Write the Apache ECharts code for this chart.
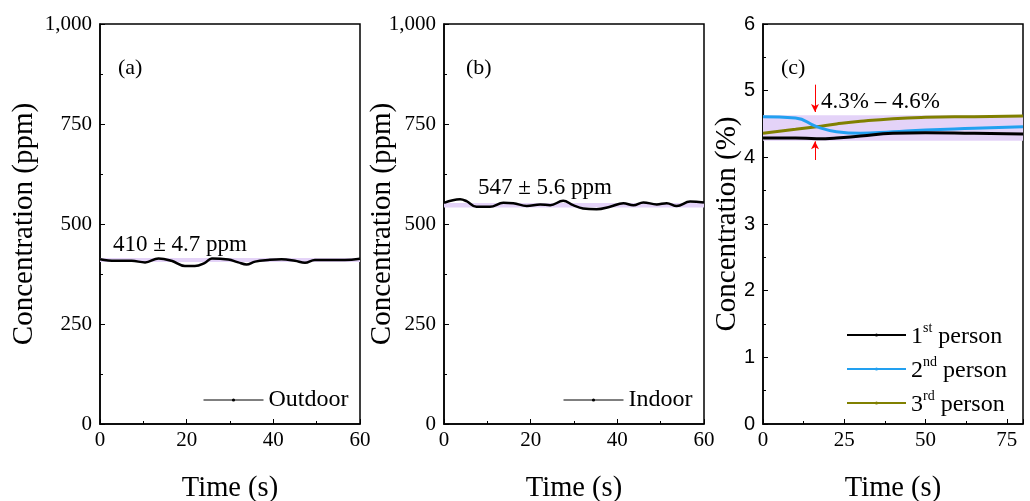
<!DOCTYPE html>
<html><head><meta charset="utf-8">
<script src="https://cdn.jsdelivr.net/npm/echarts@6/dist/echarts.min.js"></script>
<style>html,body{margin:0;padding:0;background:#fff}#c{width:1030px;height:501px}</style>
</head><body><div id="c"></div>
<script>
// ---- data ----
const timeA = [0, 3.5, 7.3, 10.4, 13.5, 16.5, 19.6, 21.9, 24.2, 25.8, 29.6, 31.9, 33.8, 35.8, 38.8, 41.9, 45, 47.3, 49.6, 52.7, 56.5, 60];
const outdoor = [412, 408, 408, 404, 414, 408, 395, 395, 403, 414, 411, 404, 399, 406, 410, 412, 408, 403, 410, 410, 410, 413];
const timeB = [0, 3.7, 5.2, 7.5, 10.6, 13.7, 16, 19.1, 22.2, 24.5, 27.5, 29.8, 32.1, 35.2, 38.3, 41.4, 43.7, 46, 49.1, 51.4, 53.7, 56.8, 60];
const indoor = [553, 562, 557, 543, 543, 553, 552, 545, 549, 547, 558, 547, 539, 537, 543, 552, 547, 554, 549, 552, 545, 556, 554];
const timeC = [0, 10, 16.5, 22.6, 30, 40, 50, 65, 80];
const person1 = [4.29, 4.29, 4.28, 4.29, 4.32, 4.36, 4.37, 4.36, 4.35];
const person2 = [4.61, 4.59, 4.46, 4.385, 4.36, 4.385, 4.41, 4.435, 4.46];
const person3 = [4.36, 4.42, 4.46, 4.50, 4.54, 4.58, 4.60, 4.61, 4.62];
const bandA = [405.3, 414.7];
const bandB = [541.4, 552.6];
const bandC = [4.25, 4.63];
const arrowT = 16;
const arrowTop = [5.09, 4.68];
const arrowBottom = [3.96, 4.24];
const labelsText = {a: '410 ± 4.7 ppm', b: '547 ± 5.6 ppm', c: '4.3% – 4.6%'};

const pairs = (xs, ys) => xs.map((x, i) => [x, ys[i]]);
const SERIF = 'Liberation Serif';
const SANS = 'Liberation Sans';
const BAND = '#e4d3f8';

function xAxis(gi, max, interval) {
  return {
    type: 'value', gridIndex: gi, min: 0, max: max, interval: interval,
    name: 'Time (s)', nameLocation: 'middle', nameGap: 50, nameMoveOverlap: false,
    nameTextStyle: {fontFamily: SERIF, fontSize: 28.5, color: '#000'},
    axisLine: {show: true, lineStyle: {color: '#000', width: 1.5}},
    axisTick: {show: true, inside: true, length: 5, lineStyle: {color: '#000'}},
    minorTick: {show: true, splitNumber: 2, length: 3, lineStyle: {color: '#000'}},
    axisLabel: {fontFamily: SERIF, fontSize: 21, color: '#000', margin: 6, showMaxLabel: max % interval === 0,
      formatter: v => (v % interval === 0 ? String(v) : '')},
    splitLine: {show: false}
  };
}
function yAxis(gi, max, interval, name, gap, font, fmt) {
  return {
    type: 'value', gridIndex: gi, min: 0, max: max, interval: interval,
    name: name, nameLocation: 'middle', nameGap: gap, nameMoveOverlap: false,
    nameTextStyle: {fontFamily: SERIF, fontSize: 29, color: '#000'},
    axisLine: {show: true, lineStyle: {color: '#000', width: 1.5}},
    axisTick: {show: true, inside: true, length: 5, lineStyle: {color: '#000'}},
    minorTick: {show: true, splitNumber: 2, length: 3, lineStyle: {color: '#000'}},
    axisLabel: {fontFamily: font, fontSize: font === SANS ? 20 : 21, color: '#000', margin: 8, formatter: fmt},
    splitLine: {show: false}
  };
}
const grid = (left) => ({left: left, top: 24, width: 260, height: 400, outerBoundsMode: 'none', containLabel: false,
  show: true, borderColor: '#000', borderWidth: 1.5, backgroundColor: 'transparent'});

const legendText = {fontFamily: SERIF, fontSize: 24, color: '#000'};
const supRich = {
  n: {fontFamily: SERIF, fontSize: 24, color: '#000', lineHeight: 28, verticalAlign: 'bottom'},
  s: {fontFamily: SERIF, fontSize: 14, color: '#000', lineHeight: 14, verticalAlign: 'top'}
};

const option = {
  animation: false,
  grid: [grid(100), grid(444), grid(763)],
  xAxis: [xAxis(0, 60, 20), xAxis(1, 60, 20), xAxis(2, 80, 25)],
  yAxis: [
    yAxis(0, 1000, 250, 'Concentration (ppm)', 61, SERIF, v => v.toLocaleString('en-US')),
    yAxis(1, 1000, 250, 'Concentration (ppm)', 47, SERIF, v => v.toLocaleString('en-US')),
    yAxis(2, 6, 1, 'Concentration (%)', 21, SANS, v => String(v))
  ],
  legend: [
    {left: 203, top: 388, padding: 0, itemWidth: 60, itemHeight: 4, data: ['Outdoor'], textStyle: legendText,
     lineStyle: {width: 1}},
    {left: 563, top: 388, padding: 0, itemWidth: 60, itemHeight: 4, data: ['Indoor'], textStyle: legendText,
     lineStyle: {width: 1}},
    {left: 846, top: 321, padding: 0, orient: 'vertical', itemWidth: 59, itemHeight: 4, itemGap: 6,
     data: ['1st person', '2nd person', '3rd person'],
     formatter: n => {
       const m = n.match(/^(\d)(st|nd|rd) (.*)$/);
       return '{n|' + m[1] + '}{s|' + m[2] + '}{n| ' + m[3] + '}';
     },
     textStyle: {fontFamily: SERIF, fontSize: 24, color: '#000', rich: supRich}}
  ],
  series: [
    {name: 'Outdoor', type: 'line', xAxisIndex: 0, yAxisIndex: 0, data: pairs(timeA, outdoor),
     smooth: 0.4, symbol: 'circle', symbolSize: 3, showSymbol: false,
     lineStyle: {color: '#000', width: 2.5}, itemStyle: {color: '#000'},
     markArea: {silent: true, itemStyle: {color: BAND}, data: [[{yAxis: bandA[0]}, {yAxis: bandA[1]}]]}},
    {name: 'Indoor', type: 'line', xAxisIndex: 1, yAxisIndex: 1, data: pairs(timeB, indoor),
     smooth: 0.4, symbol: 'circle', symbolSize: 3, showSymbol: false,
     lineStyle: {color: '#000', width: 2.5}, itemStyle: {color: '#000'},
     markArea: {silent: true, itemStyle: {color: BAND}, data: [[{yAxis: bandB[0]}, {yAxis: bandB[1]}]]}},
    {name: '1st person', type: 'line', xAxisIndex: 2, yAxisIndex: 2, data: pairs(timeC, person1),
     smooth: true, symbol: 'circle', symbolSize: 3, showSymbol: false, z: 5,
     lineStyle: {color: '#000', width: 3}, itemStyle: {color: '#000'},
     markArea: {silent: true, itemStyle: {color: BAND}, data: [[{yAxis: bandC[0]}, {yAxis: bandC[1]}]]},
     markLine: {silent: true, symbol: ['none', 'arrow'], symbolSize: [6, 8], label: {show: false},
       lineStyle: {color: '#ff0000', width: 1, type: 'solid'},
       data: [
         [{coord: [arrowT, arrowTop[0]]}, {coord: [arrowT, arrowTop[1]]}],
         [{coord: [arrowT, arrowBottom[0]]}, {coord: [arrowT, arrowBottom[1]]}]
       ]}},
    {name: '2nd person', type: 'line', xAxisIndex: 2, yAxisIndex: 2, data: pairs(timeC, person2),
     smooth: true, symbol: 'circle', symbolSize: 3, showSymbol: false, z: 4,
     lineStyle: {color: '#22a0f0', width: 3}, itemStyle: {color: '#22a0f0'}},
    {name: '3rd person', type: 'line', xAxisIndex: 2, yAxisIndex: 2, data: pairs(timeC, person3),
     smooth: true, symbol: 'circle', symbolSize: 3, showSymbol: false, z: 3,
     lineStyle: {color: '#808000', width: 3}, itemStyle: {color: '#808000'}}
  ],
  graphic: [
    {type: 'text', x: 118, y: 68, style: {text: '(a)', font: '22px "Liberation Serif"', fill: '#000', verticalAlign: 'middle'}},
    {type: 'text', x: 466, y: 68, style: {text: '(b)', font: '22px "Liberation Serif"', fill: '#000', verticalAlign: 'middle'}},
    {type: 'text', x: 781, y: 68, style: {text: '(c)', font: '22px "Liberation Serif"', fill: '#000', verticalAlign: 'middle'}},
    {type: 'text', x: 113, y: 245, style: {text: labelsText.a, font: '23px "Liberation Serif"', fill: '#000', verticalAlign: 'middle'}},
    {type: 'text', x: 478, y: 188, style: {text: labelsText.b, font: '23px "Liberation Serif"', fill: '#000', verticalAlign: 'middle'}},
    {type: 'text', x: 821, y: 102, style: {text: labelsText.c, font: '23px "Liberation Serif"', fill: '#000', verticalAlign: 'middle'}}
  ]
};
const chart = echarts.init(document.getElementById('c'), null, {renderer: 'canvas'});
chart.setOption(option);
</script></body></html>
